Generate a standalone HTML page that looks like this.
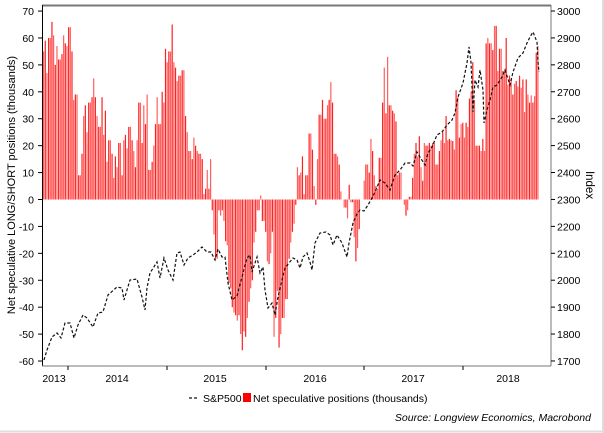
<!DOCTYPE html>
<html><head><meta charset="utf-8"><style>
html,body{margin:0;padding:0;background:#fff}
svg{display:block;font-family:"Liberation Sans",sans-serif}
</style></head><body>
<svg id="s" width="604" height="433" xmlns="http://www.w3.org/2000/svg">
<rect x="0" y="0" width="604" height="433" fill="#fff"/>
<g id="bars"></g>
<polyline id="sp" fill="none" stroke="#111" stroke-width="1.2" stroke-dasharray="3,2"/>
<line x1="42" y1="5.5" x2="551" y2="5.5" stroke="#777" stroke-width="2"/>
<line x1="42.5" y1="5" x2="42.5" y2="366" stroke="#000" stroke-width="1"/>
<line x1="551" y1="5" x2="551" y2="366" stroke="#777" stroke-width="1"/>
<line x1="42" y1="366" x2="551" y2="366" stroke="#777" stroke-width="1"/>
<g id="ax" font-size="10.5" fill="#000"></g>
<text transform="translate(15,185) rotate(-90)" text-anchor="middle" font-size="11">Net speculative LONG/SHORT positions (thousands)</text>
<text transform="translate(586,185) rotate(90)" text-anchor="middle" font-size="11.5">Index</text>
<g font-size="10.5">
<line x1="189" y1="398" x2="198" y2="398" stroke="#111" stroke-width="1.2" stroke-dasharray="3,2"/>
<text x="203" y="402">S&amp;P500</text>
<rect x="243" y="393" width="8" height="9" fill="#f00"/>
<text x="253" y="402">Net speculative positions (thousands)</text>
</g>
<text x="591" y="421" text-anchor="end" font-size="10.5" font-style="italic">Source: Longview Economics, Macrobond</text>
<line x1="0" y1="431.5" x2="604" y2="431.5" stroke="#ddd" stroke-width="2"/>
<line x1="603" y1="0" x2="603" y2="433" stroke="#ddd" stroke-width="2"/>
</svg>
<script>
var NS="http://www.w3.org/2000/svg";
function el(t,a,p,txt){var e=document.createElementNS(NS,t);for(var k in a)e.setAttribute(k,a[k]);if(txt!==undefined)e.textContent=txt;p.appendChild(e);return e;}
var ax=document.getElementById('ax');
function yv(v){return 199.5-v*2.692;}
for(var v=-60;v<=70;v+=10){var y=yv(v);el('line',{x1:38,y1:y,x2:42,y2:y,stroke:'#000'},ax);el('text',{x:34,y:y+4,'text-anchor':'end'},ax,String(v));}
for(var i=1700;i<=3000;i+=100){var y=11+(3000-i)*0.2692;el('line',{x1:551,y1:y,x2:555,y2:y,stroke:'#000'},ax);el('text',{x:557,y:y+4},ax,String(i));}
var ticks=[68,167,266,364,463];ticks.forEach(function(x){el('line',{x1:x,y1:366,x2:x,y2:370,stroke:'#000'},ax);});
var yrs=[[54,'2013'],[117,'2014'],[215,'2015'],[315,'2016'],[413,'2017'],[508,'2018']];
yrs.forEach(function(a){el('text',{x:a[0],y:382,'text-anchor':'middle'},ax,a[1]);});
var k=[[43,55],[45,59],[47,47],[49,60],[51,66],[53,61],[55,50],[57,57],[59,52],[61,54],[63,61],[65,58],[67,57],[69,64],[71,55],[73,37],[75,39],[77,39],[79,9],[81,17],[83,31],[85,35],[87,25],[89,36],[91,38],[93,45],[95,38],[97,31],[99,27],[101,38],[103,24],[105,33],[107,14],[109,22],[111,17],[113,8],[115,16],[117,12],[119,21],[121,9],[123,22],[125,24],[127,19],[129,27],[131,22],[133,18],[135,12],[137,22],[139,36],[141,21],[143,35],[145,28],[147,39],[149,11],[151,14],[153,20],[155,28],[157,38],[159,28],[161,40],[163,36],[165,56],[167,51],[169,55],[171,65],[173,51],[175,49],[177,44],[179,46],[181,48],[183,48],[185,31],[187,25],[189,18],[191,15],[193,23],[195,20],[197,18],[199,17],[201,15],[203,2],[205,4],[207,11],[209,4],[210.5,15],
[212,-4],[214,-13],[216,-22],[218,-4],[220,-6],[222,-4],[223.5,-8],[225,-15.5],[227,-17],[228.5,-31],[230,-33],[232,-40],[233.5,-42],[235,-43],[237,-45],[238.5,-43],[240,-50],[242,-56],[243.5,-49],[245,-51],[247,-44],[248.5,-38],[250,-33],[252,-30],[253.5,-16],[255,-12],[257,-4],[258.5,-4],[259.5,1.5],[261.5,-8],[263,-8],[265,-12],[267,-23],[268.5,-24],[270,-20],[272,-12],[273.5,-51],[275,-44],[277,-34],[278.5,-55],[280,-50],[282,-44],[283.5,-44],[285,-37],[287,-37],[288.5,-22],[290,-16],[292,-12],[293.5,-9],[295,-2],[296.5,12],[298.5,9],
[300,10],[302,16],[304,2],[306,9],[309,24.5],[311.5,18.5],[313,5],[315,-2],[317.5,15],[319.5,31.5],[321,37],[323,30],[325,30],[327,35],[328.5,37],[331,43.6],[332.5,36],[334.5,17],[336,16],[338.5,13],[340,3],[342,0],[345,-3],[347,-7],[349,5.5],[351.5,-1],[354,-14],[355.5,-23],[357,-18],[358.5,-11],[361,0],[363,7],[364.5,24],[366,13],[368.5,10],[370,22.5],[372,18],[374,9],[376,5],[377.5,4],[379.5,15.5],[381.5,36],[383.5,49],[385.5,32],[387.5,53],[389.5,35],[391.5,33],[393.5,32],[395.5,29],[396.5,9],[398.5,10],[400,10],[401.5,0],[403.5,-2],[405,-6],[406.5,-4],[408.5,1],[410,1],[411.5,8],[413.5,17],[415,21],[416.5,16],[418.5,23.5],[420,12],[421.5,7],[423.5,21],[425,20],[426.5,20],[428.5,21],[430,20],[431.5,21],[433.5,21],[435,13],[436.5,13],[438.5,18],[440,22],[441.5,25],[443.5,21],[445,31],[446.5,22],[448.5,22.5],[450,22],[451.5,21.7],[453.5,18.6],[455,40.6],[456.5,38],[458.5,23],[460,28],[461.5,28.5],[463.5,23],[465,28.5],[466.5,27],[468.5,37.5],[470,40],[471.5,51],[473.5,37],[475,20],[476.5,20],[478.5,20],[480,18],[481.5,22.5],[483.5,18],[485,58],[486.5,60],[488.5,58],[490,58],[491.5,55.5],[493.5,64.5],[495,64.5],[496.5,47.7],[498.5,56],[500,56],[501.5,47.7],[503.5,48],[505,60],[506.5,42.7],[508.5,46],[510,44.6],[511.5,39],[513.5,43],[515,44],[516.5,42],[518.5,46],[520,41.5],[521.5,44.6],[523.5,32.5],[525,44.6],[526.5,39],[528.5,36],[530,38.7],[531.5,36],[533.5,38.4],[535,54.5],[536.5,57],[538.5,66]];
var g=document.getElementById('bars');
var n=0;
for(var x=43;x<=539;x+=1.67){
 var v=0;for(var i=0;i<k.length-1;i++){if(x>=k[i][0]&&x<=k[i+1][0]){var t=(x-k[i][0])/(k[i+1][0]-k[i][0]);v=(t<0.5)?k[i][1]:k[i+1][1];break;}}
 var y0=yv(0),y1=yv(v);
 el('rect',{x:x.toFixed(2),y:Math.min(y0,y1).toFixed(2),width:1.2,height:Math.abs(y1-y0).toFixed(2),fill:(n%2?'#ff2020':'#ff6060')},g);n++;
}
var sp=[[44,360],[47,350],[52,337],[57,333],[61,338],[65,323],[70,323],[74,338],[78,325],[83,315],[87,318],[93,327],[98,313],[103,312],[108,295],[117,287],[122,288],[124,300],[130,280],[137,279],[142,297],[145,310],[147,288],[150,273],[157,262],[160,278],[164,258],[168,270],[173,280],[177,253],[180,252],[184,265],[188,258],[193,255],[197,252],[202,247],[207,252],[211,252],[215,260],[218,249],[222,257],[225,257],[228,283],[232,300],[237,296],[242,277],[247,258],[250,255],[252,272],[257,257],[260,273],[263,267],[265,290],[268,308],[272,303],[275,315],[278,297],[282,280],[285,268],[289,263],[293,258],[297,260],[300,268],[303,257],[307,253],[310,262],[312,270],[315,243],[320,233],[326,232],[330,235],[333,245],[337,235],[342,243],[347,257],[349,243],[353,223],[357,214],[360,210],[364,211],[368,205],[372,198],[375,192],[380,180],[385,183],[390,190],[395,175],[400,170],[405,163],[410,163],[413,166],[417,152],[420,157],[425,165],[428,153],[432,147],[437,135],[442,132],[447,125],[452,120],[455,113],[458,97],[463,83],[467,63],[469,47],[471,62],[473,112],[475,80],[478,87],[480,70],[483,90],[484,123],[487,110],[490,100],[493,87],[497,85],[502,77],[505,70],[510,85],[513,72],[518,58],[523,53],[527,43],[530,37],[533,32],[537,42],[538,62],[539,72]];
document.getElementById('sp').setAttribute('points',sp.map(function(p){return p.join(',');}).join(' '));
</script>
</body></html>
